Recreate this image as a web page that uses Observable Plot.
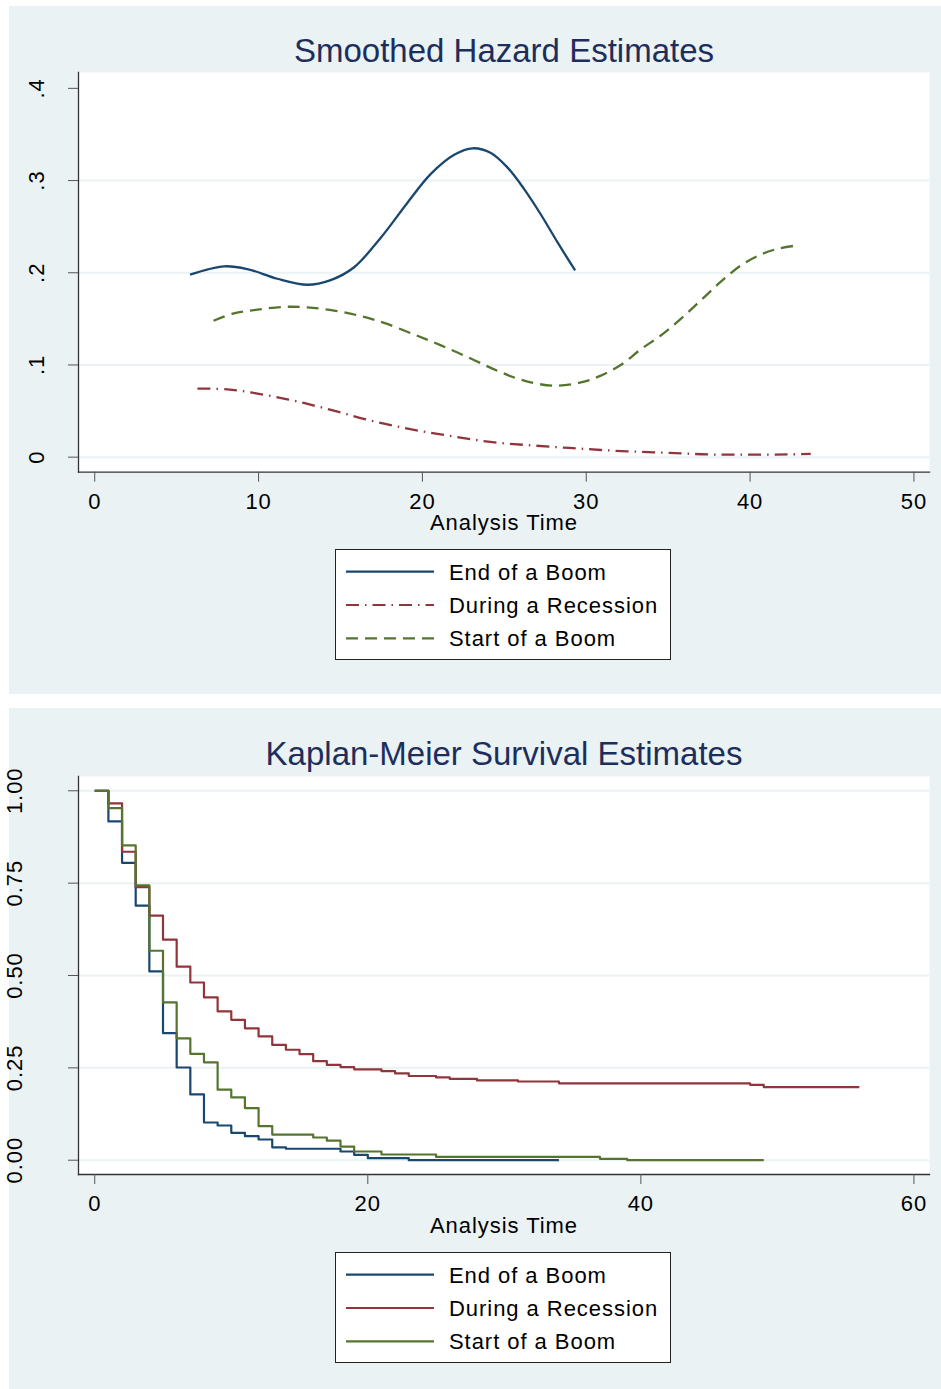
<!DOCTYPE html>
<html>
<head>
<meta charset="utf-8">
<script src="https://cdn.jsdelivr.net/npm/d3@7"></script>
<script src="https://cdn.jsdelivr.net/npm/@observablehq/plot@0.6"></script>
<style>
  body { margin: 0; background: #ffffff; }
  #root { position: relative; width: 941px; height: 1389px; overflow: hidden; font-family: "Liberation Sans", Arial, sans-serif; }
  .bg { position: absolute; left: 9px; width: 932px; background: #eaf2f3; }
  .abs { position: absolute; left: 0; }
  .legend { position: absolute; left: 335px; }
</style>
</head>
<body>
<div id="root">
  <div class="bg" style="top:6px;height:688px;"></div>
  <div class="bg" style="top:708px;height:681px;"></div>
  <div id="p1" class="abs" style="top:6px;"></div>
  <div id="p2" class="abs" style="top:708px;"></div>
  <div id="l1" class="legend" style="top:549px;"></div>
  <div id="l2" class="legend" style="top:1252px;"></div>
</div>
<script>
// ---------------- data ----------------
const seriesNames = ["End of a Boom", "During a Recession", "Start of a Boom"];
const seriesColors = ["#1a476f", "#90353b", "#55752f"];
const hazardDash = ["none", "13,6,1.5,6", "12,7"];

// Smoothed hazard estimates (analysis time, hazard)
const hazEndBoomT = [5.82, 7.9, 9.32, 11.15, 12.98, 14.4, 15.83, 17.46, 19.09, 20.5, 21.94, 23.06, 24.18, 25.2, 26.2, 27.2, 28.25, 29.32];
const hazEndBoomH = [0.198, 0.207, 0.204, 0.1935, 0.187, 0.192, 0.206, 0.238, 0.276, 0.307, 0.328, 0.335, 0.330, 0.314, 0.291, 0.264, 0.233, 0.2025];

const hazRecessionT = [6.27, 8.1, 9.93, 11.76, 13.39, 15.02, 16.65, 18.27, 19.9, 21.53, 23.16, 24.79, 26.42, 28.04, 29.47, 30.9, 32.5, 34.15, 35.77, 37.4, 39.0, 40.66, 42.29, 43.7];
const hazRecessionH = [0.0743, 0.0736, 0.069, 0.0628, 0.056, 0.0484, 0.0405, 0.034, 0.0283, 0.0235, 0.0189, 0.0153, 0.0131, 0.011, 0.0095, 0.0078, 0.0063, 0.0052, 0.0041, 0.003, 0.0027, 0.0027, 0.003, 0.0035];

const hazStartBoomT = [7.25, 8.5, 9.93, 11.56, 12.98, 14.6, 16.24, 17.66, 19.5, 21.1, 22.95, 24.58, 26.2, 28.04, 29.67, 30.89, 32.1, 33.33, 34.55, 35.77, 36.99, 38.2, 39.44, 40.66, 41.68, 42.8];
const hazStartBoomH = [0.148, 0.156, 0.160, 0.163, 0.1625, 0.159, 0.153, 0.1456, 0.133, 0.1215, 0.107, 0.0937, 0.083, 0.0775, 0.081, 0.0884, 0.0999, 0.117, 0.132, 0.150, 0.170, 0.190, 0.208, 0.2198, 0.226, 0.2295];

// Kaplan-Meier survival estimates (analysis time, survival)
const kmEndBoomT = [0, 1, 2, 3, 4, 5, 6, 7, 8, 9, 10, 11, 12, 13, 14, 18, 19, 20, 23, 34];
const kmEndBoomS = [1, 0.917, 0.805, 0.689, 0.511, 0.344, 0.251, 0.178, 0.102, 0.094, 0.074, 0.065, 0.056, 0.035, 0.031, 0.0235, 0.0146, 0.0055, 0, 0];

const kmRecessionT = [0, 1, 2, 3, 4, 5, 6, 7, 8, 9, 10, 11, 12, 13, 14, 15, 16, 17, 18, 19, 21, 22, 23, 25, 26, 28, 31, 34, 48, 49, 56];
const kmRecessionS = [1, 0.966, 0.835, 0.739, 0.662, 0.597, 0.524, 0.481, 0.441, 0.403, 0.380, 0.357, 0.335, 0.312, 0.299, 0.287, 0.268, 0.258, 0.252, 0.246, 0.241, 0.235, 0.228, 0.224, 0.220, 0.216, 0.213, 0.208, 0.204, 0.198, 0.198];

const kmStartBoomT = [0, 1, 2, 3, 4, 5, 6, 7, 8, 9, 10, 11, 12, 13, 16, 17, 18, 19, 21, 25, 37, 39, 49];
const kmStartBoomS = [1, 0.953, 0.852, 0.744, 0.567, 0.4275, 0.330, 0.288, 0.265, 0.191, 0.170, 0.141, 0.092, 0.0695, 0.0614, 0.053, 0.037, 0.0235, 0.0154, 0.009, 0.0038, 0, 0];

// axes
const hazXTicks = [0, 10, 20, 30, 40, 50];
const hazYTicks = [0, 0.1, 0.2, 0.3, 0.4];
const hazYTickLabels = ["0", ".1", ".2", ".3", ".4"];
const hazGrid = [0, 0.1, 0.2, 0.3];
const kmXTicks = [0, 20, 40, 60];
const kmYTicks = [0, 0.25, 0.5, 0.75, 1];
const kmYTickLabels = ["0.00", "0.25", "0.50", "0.75", "1.00"];
const kmGrid = [0, 0.25, 0.5, 0.75, 1];

const titles = ["Smoothed Hazard Estimates", "Kaplan-Meier Survival Estimates"];
const xLabel = "Analysis Time";

// ---------------- tables ----------------
const hazT = [hazEndBoomT, hazRecessionT, hazStartBoomT];
const hazH = [hazEndBoomH, hazRecessionH, hazStartBoomH];
const kmT = [kmEndBoomT, kmRecessionT, kmStartBoomT];
const kmS = [kmEndBoomS, kmRecessionS, kmStartBoomS];

const hazard = seriesNames.map((name, i) => hazT[i].map((t, j) => ({series: name, t, v: hazH[i][j]})));
const km = seriesNames.map((name, i) => kmT[i].map((t, j) => ({series: name, t, v: kmS[i][j]})));

const FONT = "'Liberation Sans', Arial, sans-serif";
const TITLE_COLOR = "#1e2e5c";

function panel({data, curve, dashes, lineWidth, xDomain, yDomain, xTicks, yTicks, yLabels, grid, title, height, marginTop, marginBottom, yPad, titleDy, labelDy}) {
  const fmt = new Map(yTicks.map((d, i) => [d, yLabels[i]]));
  const svg = Plot.plot({
    width: 941,
    height,
    marginLeft: 78,
    marginRight: 12,
    marginTop,
    marginBottom,
    x: {domain: xDomain},
    y: {domain: yDomain},
    style: {background: "transparent", fontFamily: FONT, fontSize: "22px", color: "#000", overflow: "visible"},
    marks: [
      Plot.frame({fill: "white", stroke: "none"}),
      Plot.ruleY(grid, {stroke: "#eaf2f3", strokeWidth: 2}),
      ...data.map((rows, i) => Plot.line(rows, {
        x: "t", y: "v",
        stroke: seriesColors[i],
        strokeWidth: lineWidth,
        strokeDasharray: dashes ? dashes[i] : "none",
        strokeLinecap: "butt",
        strokeLinejoin: "round",
        curve
      })),
      Plot.frame({anchor: "left", stroke: "#333", strokeWidth: 1.3}),
      Plot.frame({anchor: "bottom", stroke: "#333", strokeWidth: 1.3}),
      Plot.axisX({ticks: xTicks, tickSize: 10, tickPadding: 11, tickFormat: d => String(d), label: null, stroke: "#555"}),
      Plot.axisY({ticks: yTicks, tickSize: 10, tickPadding: yPad, tickRotate: -90, tickFormat: d => fmt.get(d), label: null, stroke: "#555"}),
      Plot.text([xLabel], {text: d => d, frameAnchor: "bottom", dy: labelDy, lineAnchor: "bottom", fontSize: 22}),
      Plot.text([title], {text: d => d, frameAnchor: "top", dy: titleDy, lineAnchor: "bottom", fontSize: 33, fill: TITLE_COLOR})
    ]
  });
  // GDI-like wider advance for the small texts, plain spacing for the title
  d3.select(svg).selectAll("text").each(function() {
    this.style.letterSpacing = this.textContent === title ? "0px" : "0.95px";
  });
  return svg;
}

document.getElementById("p1").appendChild(panel({
  data: hazard, curve: "catmull-rom", dashes: hazardDash, lineWidth: 2.3,
  xDomain: [-0.99, 50.95], yDomain: [-0.0163, 0.4172],
  xTicks: hazXTicks, yTicks: hazYTicks, yLabels: hazYTickLabels, grid: hazGrid,
  title: titles[0], height: 688, marginTop: 66, marginBottom: 222.3,
  yPad: 24.5, titleDy: -10.3, labelDy: 57.3
}));

document.getElementById("p2").appendChild(panel({
  data: km, curve: "step-after", dashes: null, lineWidth: 2.2,
  xDomain: [-1.19, 61.14], yDomain: [-0.0387, 1.0387],
  xTicks: kmXTicks, yTicks: kmYTicks, yLabels: kmYTickLabels, grid: kmGrid,
  title: titles[1], height: 681, marginTop: 68, marginBottom: 215,
  yPad: 47, titleDy: -11.5, labelDy: 58
}));

// ---------------- legends ----------------
function legend(dashes) {
  const w = 336, h = 111;
  const svg = d3.create("svg").attr("width", w).attr("height", h)
    .style("display", "block").style("font-family", FONT).style("font-size", "22px").style("letter-spacing", "0.95px");
  svg.append("rect").attr("x", 0.5).attr("y", 0.5).attr("width", w - 1).attr("height", h - 1)
    .attr("fill", "white").attr("stroke", "#222").attr("stroke-width", 1);
  seriesNames.forEach((name, i) => {
    const cy = 22.7 + i * 33.3;
    svg.append("line").attr("x1", 11).attr("x2", 99).attr("y1", cy).attr("y2", cy)
      .attr("stroke", seriesColors[i]).attr("stroke-width", 2.2)
      .attr("stroke-dasharray", dashes ? dashes[i] : "none");
    svg.append("text").attr("x", 114).attr("y", cy + 7.9).attr("fill", "#000").text(name);
  });
  return svg.node();
}
document.getElementById("l1").appendChild(legend(hazardDash));
document.getElementById("l2").appendChild(legend(null));
</script>
</body>
</html>
